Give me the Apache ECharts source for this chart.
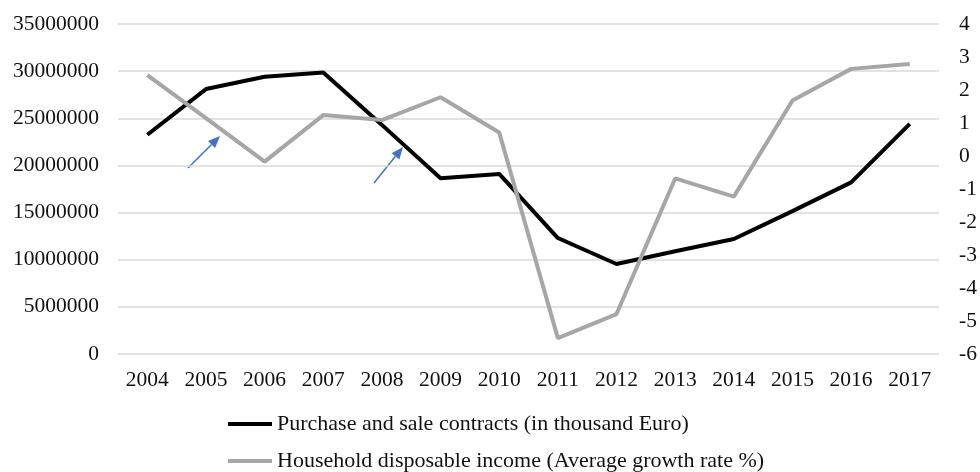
<!DOCTYPE html>
<html>
<head>
<meta charset="utf-8">
<script src="https://cdn.jsdelivr.net/npm/echarts@6/dist/echarts.min.js"></script>
<style>html,body{margin:0;padding:0;background:#fff}#c{width:980px;height:472px}</style>
</head>
<body>
<div id="c"></div>
<script>
const years = ['2004','2005','2006','2007','2008','2009','2010','2011','2012','2013','2014','2015','2016','2017'];
const contracts = [23250000, 28100000, 29400000, 29850000, 24300000, 18650000, 19100000, 12300000, 9550000, 10900000, 12200000, 15150000, 18200000, 24400000];
const incomeGrowth = [2.45, 1.15, -0.17, 1.24, 1.09, 1.78, 0.71, -5.52, -4.79, -0.68, -1.23, 1.68, 2.64, 2.79];
const seriesNames = ['Purchase and sale contracts (in thousand Euro)', 'Household disposable income (Average growth rate %)'];

const FONT = "'Liberation Serif', 'Times New Roman', serif";
const chart = echarts.init(document.getElementById('c'), null, {renderer: 'canvas'});

function arrow(x1, y1, x2, y2) {
  const dx = x2 - x1, dy = y2 - y1, L = Math.hypot(dx, dy);
  const ux = dx / L, uy = dy / L, head = 12, half = 5;
  const bx = x2 - ux * head, by = y2 - uy * head;
  return [
    {type: 'line', shape: {x1: x1, y1: y1, x2: bx, y2: by}, style: {stroke: '#4472C4', lineWidth: 1.5}},
    {type: 'polygon', shape: {points: [[x2, y2], [bx - uy * half, by + ux * half], [bx + uy * half, by - ux * half]]}, style: {fill: '#4472C4'}}
  ];
}

const legendBase = {
  orient: 'vertical', left: 223,
  itemWidth: 44, itemHeight: 4, icon: 'rect',
  textStyle: {fontFamily: FONT, fontSize: 22, color: '#111'}
};

chart.setOption({
  animation: false,
  backgroundColor: '#fff',
  grid: {left: 118, right: 38, top: 24, bottom: 118, containLabel: false},
  legend: [
    Object.assign({}, legendBase, {top: 408, data: [seriesNames[0]]}),
    Object.assign({}, legendBase, {top: 445, data: [seriesNames[1]]})
  ],
  xAxis: {
    type: 'category', data: years, boundaryGap: true,
    axisLine: {show: false}, axisTick: {show: false},
    axisLabel: {fontFamily: FONT, fontSize: 21.5, color: '#111', margin: 15}
  },
  yAxis: [
    {type: 'value', min: 0, max: 35000000, interval: 5000000,
     axisLine: {show: false}, axisTick: {show: false},
     axisLabel: {fontFamily: FONT, fontSize: 21.5, color: '#111', margin: 19, formatter: v => String(v)},
     splitLine: {lineStyle: {color: '#D9D9D9', width: 1.5}}},
    {type: 'value', min: -6, max: 4, interval: 1, position: 'right',
     axisLine: {show: false}, axisTick: {show: false},
     axisLabel: {fontFamily: FONT, fontSize: 21.5, color: '#111', margin: 20, formatter: v => String(v)},
     splitLine: {show: false}}
  ],
  series: [
    {name: seriesNames[0], type: 'line', yAxisIndex: 0, data: contracts, symbol: 'none',
     lineStyle: {color: '#000', width: 4}, itemStyle: {color: '#000'}},
    {name: seriesNames[1], type: 'line', yAxisIndex: 1, data: incomeGrowth, symbol: 'none',
     lineStyle: {color: '#A6A6A6', width: 4}, itemStyle: {color: '#A6A6A6'}}
  ],
  graphic: [].concat(arrow(188, 168, 220, 136), arrow(374, 183, 403, 147))
});
</script>
</body>
</html>
